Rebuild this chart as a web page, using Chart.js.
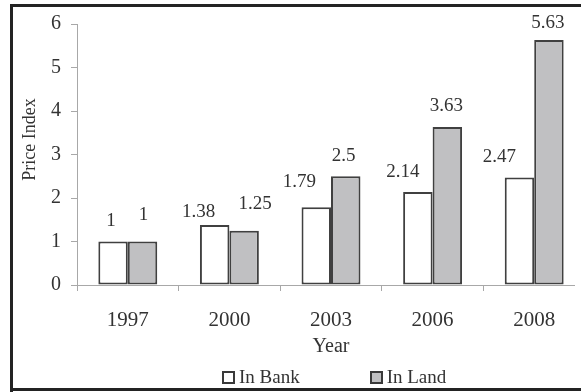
<!DOCTYPE html>
<html>
<head>
<meta charset="utf-8">
<script src="https://cdn.jsdelivr.net/npm/chart.js@4/dist/chart.umd.min.js"></script>
<style>
  html, body { margin: 0; padding: 0; background: #fff; overflow: hidden; }
  body { width: 581px; height: 392px; position: relative; }
  .edge { position: absolute; background: #232323; }
  #edge-top { left: 10px; top: 4px; width: 571px; height: 3px; }
  #edge-left { left: 10px; top: 4px; width: 3px; height: 388px; }
  #edge-bottom { left: 10px; top: 388px; width: 571px; height: 3px; }
  #wrap { position: absolute; left: 0; top: 0; width: 575px; height: 392px; overflow: hidden; }
  #legend { position: absolute; left: 222px; top: 366px; font: 19px "Liberation Serif", serif; color: #333; white-space: nowrap; }
  #legend span.item { display: inline-flex; align-items: center; }
  #legend span.box { display: inline-block; width: 9px; height: 9px; border: 2px solid #3a3a3a; margin-right: 4px; }
</style>
</head>
<body>
<div class="edge" id="edge-top"></div>
<div class="edge" id="edge-left"></div>
<div class="edge" id="edge-bottom"></div>
<div id="wrap"><canvas id="chart" width="600" height="392"></canvas></div>
<div id="legend"></div>
<script>
const years = ['1997', '2000', '2003', '2006', '2008'];
const inBank = [1, 1.38, 1.79, 2.14, 2.47];
const inLand = [1, 1.25, 2.5, 3.63, 5.63];
const yTicks = [0, 1, 2, 3, 4, 5, 6];
const seriesNames = ['In Bank', 'In Land'];
const yTitle = 'Price Index';
const xTitle = 'Year';

const serif = '"Liberation Serif", "Times New Roman", serif';
const textColor = '#333';
const axisColor = '#a8a8a8';

// value labels sit above each bar, nudged like the original
const valueLabels = {
    id: 'valueLabels',
    afterDatasetsDraw(chart, args, opts) {
        const ctx = chart.ctx;
        ctx.save();
        ctx.font = '19px ' + serif;
        ctx.fillStyle = textColor;
        ctx.textAlign = 'center';
        ctx.textBaseline = 'middle';
        chart.data.datasets.forEach((ds, di) => {
            const meta = chart.getDatasetMeta(di);
            const shift = opts.shift[di];
            meta.data.forEach((bar, i) => {
                ctx.fillText(String(ds.data[i]), bar.x + shift.dx[i], bar.y - shift.dy[i]);
            });
        });
        ctx.restore();
    }
};

// y axis title, sitting a little above the middle of the axis
const yAxisTitle = {
    id: 'yAxisTitle',
    afterDraw(chart, args, opts) {
        const ctx = chart.ctx;
        const area = chart.chartArea;
        const y = chart.scales.y;
        ctx.save();
        ctx.translate(y.left + opts.dx, (area.top + area.bottom) / 2 + opts.dy);
        ctx.rotate(-Math.PI / 2);
        ctx.font = '18px ' + serif;
        ctx.fillStyle = textColor;
        ctx.textAlign = 'center';
        ctx.textBaseline = 'middle';
        ctx.fillText(opts.text, 0, 0);
        ctx.restore();
    }
};

function renderLegend(datasets) {
    const el = document.getElementById('legend');
    datasets.forEach((ds, i) => {
        const item = document.createElement('span');
        item.className = 'item';
        if (i > 0) item.style.marginLeft = '70px';
        const box = document.createElement('span');
        box.className = 'box';
        box.style.background = ds.backgroundColor;
        item.appendChild(box);
        item.appendChild(document.createTextNode(ds.label));
        el.appendChild(item);
    });
}

const datasets = [
    { label: seriesNames[0], data: inBank, backgroundColor: '#ffffff', borderColor: '#404040', borderWidth: 2, borderSkipped: false },
    { label: seriesNames[1], data: inLand, backgroundColor: '#c0c0c2', borderColor: '#404040', borderWidth: 2, borderSkipped: false }
];

new Chart(document.getElementById('chart'), {
    type: 'bar',
    data: { labels: years, datasets: datasets },
    options: {
        responsive: false,
        animation: false,
        categoryPercentage: 0.58,
        barPercentage: 1.0,
        layout: { padding: { left: 10, right: 15, top: 24, bottom: 30 } },
        plugins: {
            legend: { display: false },
            tooltip: { enabled: false },
            valueLabels: {
                shift: [
                    { dx: [-2, -16, -17, -15, -20], dy: [20, 13, 25, 20, 21] },
                    { dx: [1, 11, -2, -1, -1], dy: [26, 27, 20, 21, 17] }
                ]
            },
            yAxisTitle: { text: yTitle, dx: 20, dy: -15 }
        },
        scales: {
            x: {
                grid: { display: true, drawOnChartArea: false, drawTicks: true, tickLength: 6, color: axisColor, offset: true },
                border: { display: true, color: axisColor, width: 1 },
                ticks: { color: textColor, font: { family: serif, size: 21 }, padding: 17, maxRotation: 0 },
                title: { display: true, text: xTitle, color: textColor, font: { family: serif, size: 20 }, padding: { top: 0, bottom: 3 } },
                afterFit: (scale) => { scale.height = 77; }
            },
            y: {
                min: yTicks[0],
                max: yTicks[yTicks.length - 1],
                afterBuildTicks: (scale) => { scale.ticks = yTicks.map(v => ({ value: v })); },
                grid: { display: true, drawOnChartArea: false, drawTicks: true, tickLength: 6, color: axisColor },
                border: { display: true, color: axisColor, width: 1 },
                ticks: { color: textColor, font: { family: serif, size: 20 }, padding: 10 },
                afterFit: (scale) => { scale.width = 67; }
            }
        }
    },
    plugins: [valueLabels, yAxisTitle]
});

renderLegend(datasets);
</script>
</body>
</html>
